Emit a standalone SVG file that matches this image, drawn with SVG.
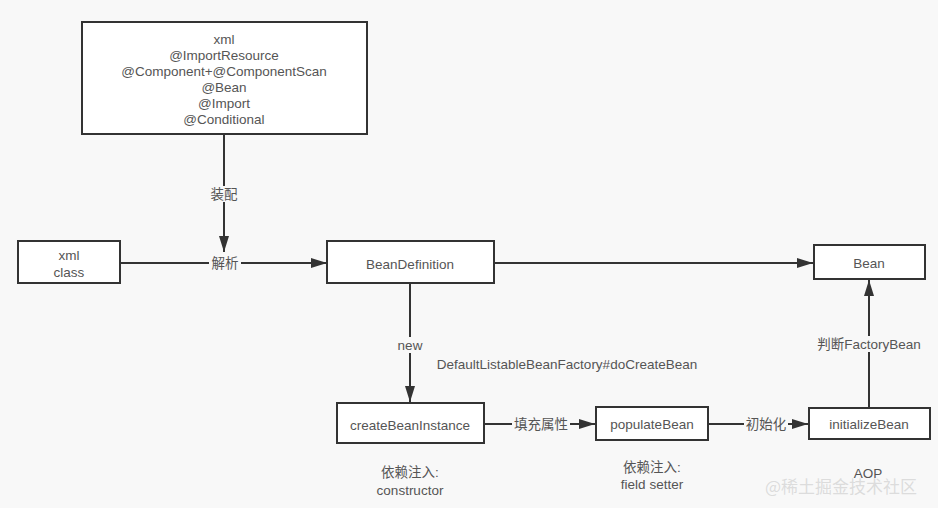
<svg xmlns="http://www.w3.org/2000/svg" width="938" height="508" viewBox="0 0 938 508">
<style>
.box{fill:#ffffff;stroke:#333333;stroke-width:2}
.t{font-family:"Liberation Sans","Noto Sans CJK SC",sans-serif;font-size:13.5px;fill:#555555;text-anchor:middle;dominant-baseline:central}
.c{stroke:#333333;stroke-width:2;fill:none}
.lbl{fill:#f8f8f8}
</style>
<defs>
<marker id="ahb" viewBox="0 0 16 10" refX="16" refY="5" markerWidth="16" markerHeight="10" markerUnits="userSpaceOnUse" orient="auto">
<path d="M0,0 L16,5 L0,10 Z" fill="#333333"/>
</marker>
</defs>
<rect width="938" height="508" fill="#f8f8f8"/>
<g id="connectors">
<line class="c" x1="224" y1="134" x2="224" y2="252" marker-end="url(#ahb)"/>
<rect class="lbl" x="209" y="186" width="30" height="16"/>
<text class="t" x="224" y="194">装配</text>
<line class="c" x1="120" y1="263" x2="327" y2="263" marker-end="url(#ahb)"/>
<rect class="lbl" x="209" y="255" width="32" height="16"/>
<text class="t" x="225" y="263">解析</text>
<line class="c" x1="494" y1="263" x2="813" y2="263" marker-end="url(#ahb)"/>
<line class="c" x1="410" y1="283" x2="410" y2="402" marker-end="url(#ahb)"/>
<rect class="lbl" x="395" y="337" width="30" height="16"/>
<text class="t" x="410" y="345">new</text>
<line class="c" x1="484" y1="424" x2="595" y2="424" marker-end="url(#ahb)"/>
<rect class="lbl" x="512" y="416" width="58" height="16"/>
<text class="t" x="541" y="424">填充属性</text>
<line class="c" x1="708" y1="424" x2="808" y2="424" marker-end="url(#ahb)"/>
<rect class="lbl" x="744" y="416" width="44" height="16"/>
<text class="t" x="766" y="424">初始化</text>
<line class="c" x1="869" y1="408" x2="869" y2="280" marker-end="url(#ahb)"/>
<rect class="lbl" x="816" y="336" width="106" height="16"/>
<text class="t" x="869" y="344">判断FactoryBean</text>
</g>
<g id="sources">
<rect class="box" x="82" y="22" width="285" height="112"/>
<text class="t" x="224" y="39">xml</text>
<text class="t" x="224" y="55">@ImportResource</text>
<text class="t" x="224" y="71">@Component+@ComponentScan</text>
<text class="t" x="224" y="87">@Bean</text>
<text class="t" x="224" y="103">@Import</text>
<text class="t" x="224" y="119">@Conditional</text>
</g>
<g id="xmlclass">
<rect class="box" x="18" y="241" width="102" height="42"/>
<text class="t" x="69" y="255">xml</text>
<text class="t" x="69" y="272">class</text>
</g>
<g id="beanDefinition">
<rect class="box" x="327" y="241" width="167" height="42"/>
<text class="t" x="410" y="264">BeanDefinition</text>
</g>
<g id="bean">
<rect class="box" x="814" y="245" width="111" height="34"/>
<text class="t" x="869" y="263">Bean</text>
</g>
<g id="createBeanInstance">
<rect class="box" x="337" y="403" width="147" height="40"/>
<text class="t" x="410" y="425">createBeanInstance</text>
</g>
<g id="populateBean">
<rect class="box" x="596" y="407" width="112" height="33"/>
<text class="t" x="652" y="424">populateBean</text>
</g>
<g id="initializeBean">
<rect class="box" x="809" y="408" width="121" height="31"/>
<text class="t" x="869" y="424">initializeBean</text>
</g>
<g id="notes">
<text class="t" x="567" y="364">DefaultListableBeanFactory#doCreateBean</text>
<text class="t" x="410" y="472">依赖注入:</text>
<text class="t" x="410" y="490">constructor</text>
<text class="t" x="652" y="467">依赖注入:</text>
<text class="t" x="652" y="484">field setter</text>
<text class="t" x="868" y="473">AOP</text>
<text x="841" y="485" style="font-family:'Noto Sans CJK SC',sans-serif;font-size:17px;fill:#d8d8d8;fill-opacity:0.9;text-anchor:middle;dominant-baseline:central">@稀土掘金技术社区</text>
</g>
</svg>
